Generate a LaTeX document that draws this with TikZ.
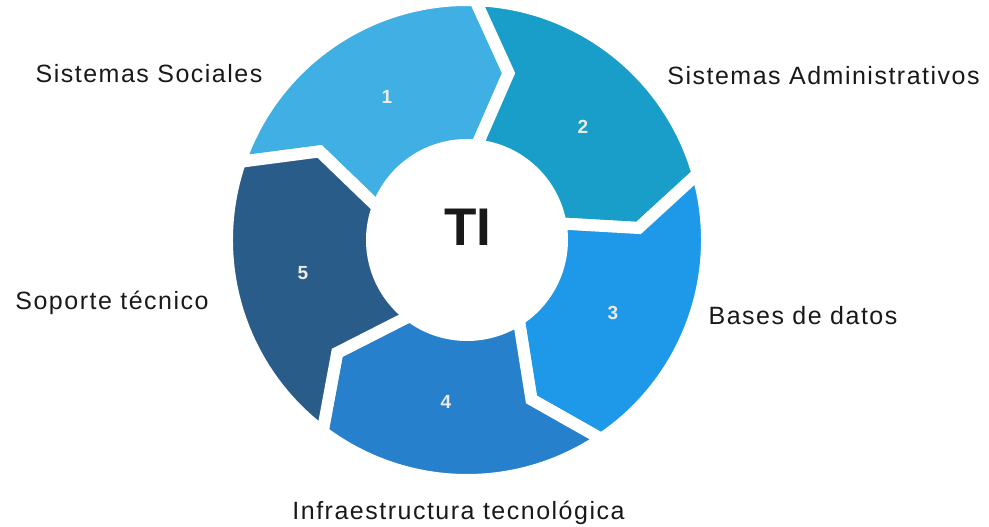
\documentclass[tikz,border=0pt]{standalone}
\usepackage{fontspec}
\setmainfont{Liberation Sans}
\newfontfamily\lblfont[LetterSpace=6]{Liberation Sans}
\definecolor{cA}{RGB}{64,176,228}
\definecolor{cB}{RGB}{24,158,200}
\definecolor{cC}{RGB}{30,152,232}
\definecolor{cD}{RGB}{38,128,204}
\definecolor{cE}{RGB}{42,92,138}
\definecolor{txt}{RGB}{25,25,25}
\def\Rout{240}
\def\Rmid{172}
\def\Rin{95}
\begin{document}
\begin{tikzpicture}[x=1pt,y=1pt,
  lbl/.style={font=\lblfont\fontsize{25}{30}\selectfont, text=txt, inner sep=0pt, anchor=base},
  num/.style={font=\bfseries\fontsize{19}{22}\selectfont, text=white!92!black, inner sep=0pt},
  ringseg/.style={draw=white, line width=12pt, line join=miter}]
\useasboundingbox (0,0) rectangle (989,527);
\begin{scope}[shift={(467,287)}]
\filldraw[ringseg, fill=cA] (161:\Rout) arc[start angle=161, end angle=88, radius=\Rout] -- (76:\Rmid) -- (84:\Rin) arc[start angle=84, end angle=160, radius=\Rin] -- (149:\Rmid) -- cycle;
\filldraw[ringseg, fill=cB] (88:\Rout) arc[start angle=88, end angle=16, radius=\Rout] -- (4:\Rmid) -- (10:\Rin) arc[start angle=10, end angle=84, radius=\Rin] -- (76:\Rmid) -- cycle;
\filldraw[ringseg, fill=cC] (16:\Rout) arc[start angle=16, end angle=-56, radius=\Rout] -- (-68:\Rmid) -- (-57:\Rin) arc[start angle=-57, end angle=10, radius=\Rin] -- (4:\Rmid) -- cycle;
\filldraw[ringseg, fill=cD] (-56:\Rout) arc[start angle=-56, end angle=-127, radius=\Rout] -- (-139:\Rmid) -- (-127:\Rin) arc[start angle=-127, end angle=-57, radius=\Rin] -- (-68:\Rmid) -- cycle;
\filldraw[ringseg, fill=cE] (-127:\Rout) arc[start angle=-127, end angle=-199, radius=\Rout] -- (-211:\Rmid) -- (-200:\Rin) arc[start angle=-200, end angle=-127, radius=\Rin] -- (-139:\Rmid) -- cycle;
\end{scope}
\node[font=\bfseries\fontsize{53}{60}\selectfont, text=txt, inner sep=0pt] (ti) at (468,300) {TI};
\node[num] (n1) at (387,430) {1};
\node[num] (n2) at (583,400) {2};
\node[num] (n3) at (613,214) {3};
\node[num] (n4) at (446,125) {4};
\node[num] (n5) at (303,254) {5};
\node[lbl] (l1) at (149,444) {Sistemas Sociales};
\node[lbl] (l2) at (823.5,442) {Sistemas Administrativos};
\node[lbl] (l3) at (803,202) {Bases de datos};
\node[lbl] (l4) at (458.5,7) {Infraestructura tecnológica};
\node[lbl] (l5) at (112,217) {Soporte técnico};
\end{tikzpicture}
\end{document}
